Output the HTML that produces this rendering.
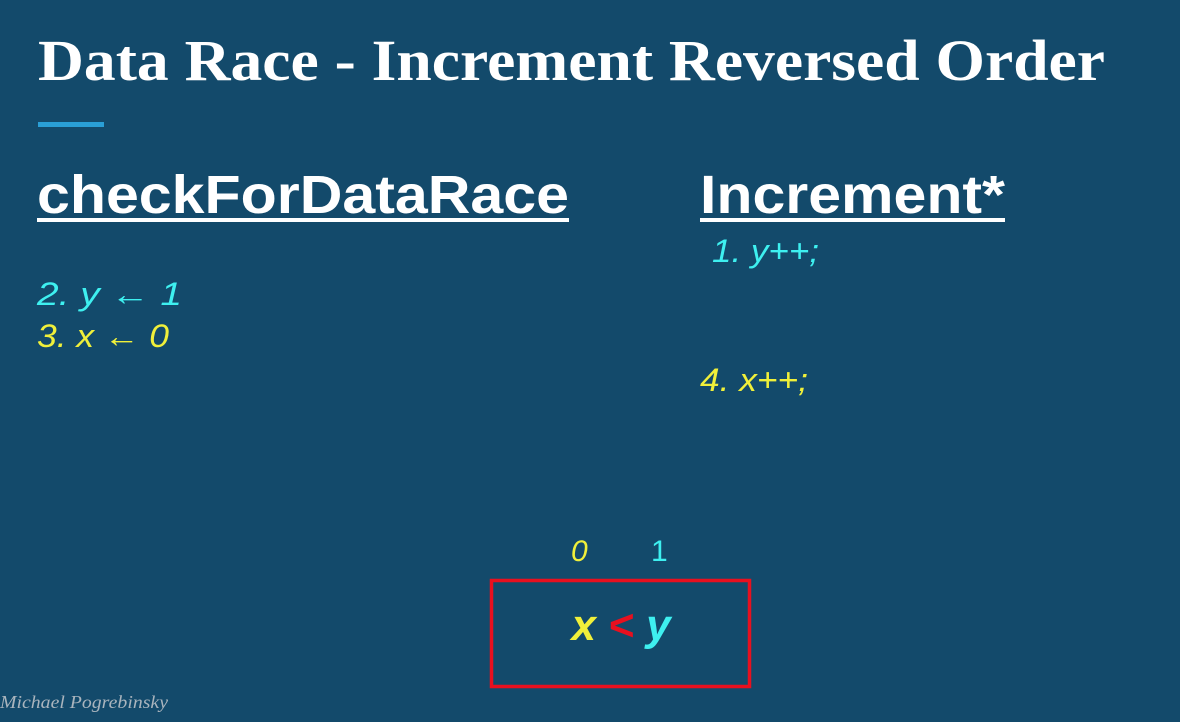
<!DOCTYPE html>
<html><head><meta charset="utf-8"><style>
html,body{margin:0;padding:0;background:#134a6b;}
svg{display:block}
</style></head><body>
<svg width="1180" height="722" viewBox="0 0 1180 722">
<rect width="1180" height="722" fill="#134a6b"/>
<text x="38" y="80" font-family="Liberation Serif, serif" font-weight="bold" font-size="58" fill="#fff" textLength="1067" lengthAdjust="spacingAndGlyphs">Data Race - Increment Reversed Order</text>
<rect x="38" y="122" width="66" height="5" fill="#2a9fd6"/>
<text x="37" y="213" font-family="Liberation Sans, sans-serif" font-weight="bold" font-size="54" fill="#fff" textLength="532" lengthAdjust="spacingAndGlyphs">checkForDataRace</text>
<rect x="37" y="218" width="532" height="4" fill="#fff"/>
<text x="700" y="213" font-family="Liberation Sans, sans-serif" font-weight="bold" font-size="54" fill="#fff" textLength="305" lengthAdjust="spacingAndGlyphs">Increment*</text>
<rect x="700" y="218" width="305" height="4" fill="#fff"/>
<g font-family="Liberation Sans, DejaVu Sans, sans-serif" font-style="italic" font-size="32">
<text x="37" y="305" fill="#3ef0f0" textLength="145" lengthAdjust="spacingAndGlyphs">2. y  ← 1</text>
<text x="37" y="347" fill="#f0f03a" textLength="132" lengthAdjust="spacingAndGlyphs">3. x ← 0</text>
<text x="712" y="262" fill="#3ef0f0" textLength="107" lengthAdjust="spacingAndGlyphs">1. y++;</text>
<text x="700" y="391" fill="#f0f03a" textLength="108" lengthAdjust="spacingAndGlyphs">4. x++;</text>
<text x="571" y="561" font-size="30" fill="#f0f03a">0</text>
<text x="651" y="561" font-size="30" font-style="normal" fill="#3ef0f0">1</text>
</g>
<rect x="491.5" y="580.5" width="258" height="106" fill="none" stroke="#e8101f" stroke-width="3.5"/>
<text x="621" y="640" text-anchor="middle" font-family="Liberation Sans, sans-serif" font-weight="bold" font-style="italic" font-size="44"><tspan fill="#f0f03a">x</tspan><tspan fill="#e8101f"> &lt; </tspan><tspan fill="#3ef0f0">y</tspan></text>
<text x="0" y="708" font-family="Liberation Serif, serif" font-style="italic" font-size="18" fill="#a9b4bd" textLength="168" lengthAdjust="spacingAndGlyphs">Michael Pogrebinsky</text>
</svg>
</body></html>
